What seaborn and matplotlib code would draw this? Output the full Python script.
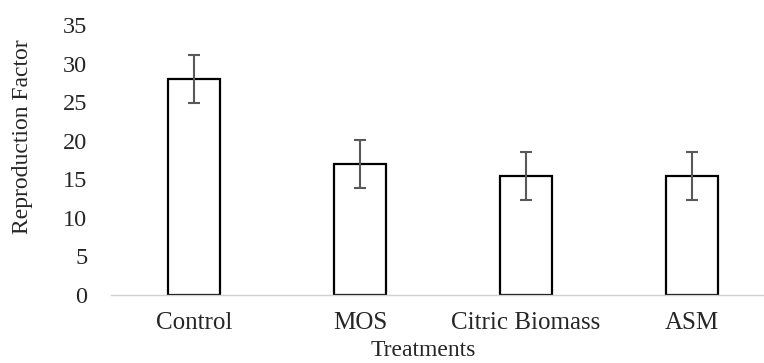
import numpy as np
import pandas as pd
import matplotlib
matplotlib.use('Agg')
import matplotlib.pyplot as plt
import seaborn as sns

treatments = ['Control', 'MOS', 'Citric Biomass', 'ASM']
repro_factor = [28.0, 17.0, 15.4, 15.4]
repro_err = [3.1, 3.1, 3.1, 3.1]
y_ticks = [0, 5, 10, 15, 20, 25, 30, 35]

sns.set_style('white')
plt.rcParams['font.family'] = ['Liberation Serif', 'DejaVu Serif']

data = pd.DataFrame({'treatment': treatments, 'rf': repro_factor})

fig = plt.figure(figsize=(7.64, 3.63), dpi=100)
ax = fig.add_axes([111 / 764, 68 / 363, 653 / 764, 270 / 363])

sns.barplot(data=data, x='treatment', y='rf', color='white', edgecolor='black',
            linewidth=1.6, width=0.31, errorbar=None, ax=ax)
ax.errorbar(np.arange(len(treatments)), repro_factor, yerr=repro_err, fmt='none',
            ecolor='#595959', elinewidth=1.5, capsize=4.5, capthick=1.5)

ax.set_ylim(0, 35)
ax.set_yticks(y_ticks)
ax.set_xlim(-0.5, 3.434)

for s in ['top', 'right', 'left']:
    ax.spines[s].set_visible(False)
ax.spines['bottom'].set_color('#d0d0d0')
ax.spines['bottom'].set_linewidth(1.0)

ax.tick_params(axis='y', length=0, pad=17, labelsize=17.5)
ax.tick_params(axis='x', length=0, pad=12, labelsize=18)

ax.set_xlabel('Treatments', fontsize=17)
ax.xaxis.set_label_coords(0.478, -0.168)
ax.set_ylabel('Reproduction Factor', fontsize=17)
ax.yaxis.set_label_coords(-0.119, 0.587)

fig.savefig('out.png', dpi=100)
